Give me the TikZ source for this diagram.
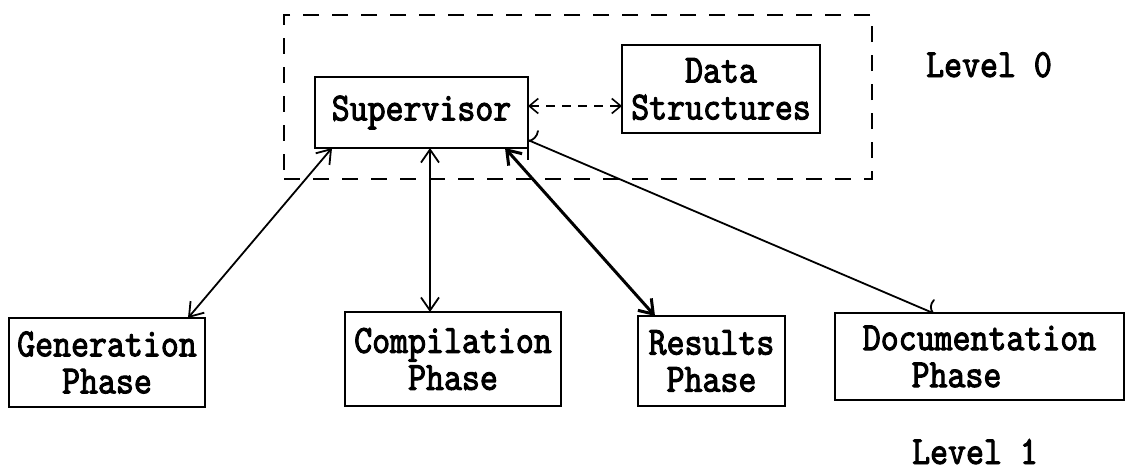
\documentclass[tikz,border=0pt]{standalone}
\usepackage{fontspec}
\newfontfamily\tw[FakeStretch=0.855,FakeBold=2.4]{lmmono10-regular.otf}
\usetikzlibrary{arrows.meta}

\begin{document}
\begin{tikzpicture}[x=1pt,y=-1pt,
  txt/.style={font=\tw\fontsize{40}{37}\selectfont, inner sep=0pt},
  box/.style={txt, draw, line width=2.6pt, inner sep=0pt, outer sep=0pt,
              align=center},
  frame/.style={draw, line width=2.4pt, dash pattern=on 16pt off 13pt,
                inner sep=0pt, outer sep=0pt},
  link/.style={line width=1.8pt, <->, >={Straight Barb[length=13pt,width=18pt]}},
  heavylink/.style={link, line width=3pt},
  dlink/.style={line width=1.6pt, dash pattern=on 9pt off 7pt, <->,
                >={Straight Barb[length=9pt,width=15pt]}},
  plain/.style={line width=1.8pt, line cap=round}
]
\useasboundingbox (0,0) rectangle (1127,472);

% level 0 group
\node[frame, minimum width=588pt, minimum height=164pt] (lvl0box) at (578,97) {};
\node[box, minimum width=213pt, minimum height=71pt] (sup) at (421.5,112.5) {Supervisor};
\node[box, minimum width=198pt, minimum height=88pt] (data) at (721,89) {Data\\Structures};
\node[txt, anchor=base] (lvl0) at (989,77) {Level 0};

% level 1 phases
\node[box, minimum width=196pt, minimum height=89pt] (gen) at (107,362.5) {Generation\\Phase};
\node[box, minimum width=216pt, minimum height=94pt] (comp) at (453,359) {Compilation\\Phase};
\node[box, minimum width=147pt, minimum height=90pt] (res) at (711.5,361) {Results\\Phase};
\node[box, minimum width=289pt, minimum height=87pt] (doc) at (979.5,356.5) {Documentation\\Phase\hspace*{46pt}};
\node[txt, anchor=base] (lvl1) at (975,464) {Level 1};

% supervisor <-> data structures
\coordinate (ds) at ([yshift=6.5pt]sup.east);
\draw[dlink] (ds) -- (ds -| data.west);

% supervisor <-> phases
\draw[link] ([xshift=17pt]sup.south west) -- ([xshift=-17pt]gen.north east);
\draw[link] ([xshift=115pt]sup.south west) -- ([xshift=85pt]comp.north west);
\draw[heavylink] ([xshift=-23pt]sup.south east) -- ([xshift=17pt]res.north west);

% supervisor -- documentation, with its hand-drawn ends
\coordinate (stip) at ([yshift=8pt]sup.south east);
\coordinate (dtip) at ([xshift=98pt]doc.north west);
\draw[plain] (stip) -- (dtip);
\draw[plain, shift={(stip)}] (1,1) .. controls (5,0) and (9,-3) .. (10,-9);
\draw[line width=2.6pt] (sup.south east) -- ++(0,12);
\draw[plain, shift={(dtip)}] (0,0) .. controls (-3,-4) and (-3,-9) .. (1,-13);
\end{tikzpicture}
\end{document}
